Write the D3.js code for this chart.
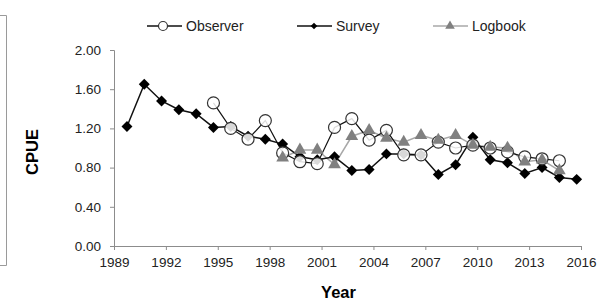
<!DOCTYPE html>
<html>
<head>
<meta charset="utf-8">
<script src="https://cdn.jsdelivr.net/npm/d3@7"></script>
<style>
  body { margin: 0; background: #fff; }
  text { font-family: "Liberation Sans", Arial, sans-serif; }
</style>
</head>
<body>
<div id="chart"></div>
<script>
var observerYears = [1995, 1996, 1997, 1998, 1999, 2000, 2001, 2002, 2003, 2004, 2005,
    2006, 2007, 2008, 2009, 2010, 2011, 2012, 2013, 2014, 2015];
var observerCpue = [1.46, 1.20, 1.09, 1.28, 0.95, 0.86, 0.84, 1.21, 1.30, 1.08, 1.18,
    0.93, 0.93, 1.06, 1.00, 1.03, 1.00, 0.96, 0.91, 0.89, 0.87];

var surveyYears = [1990, 1991, 1992, 1993, 1994, 1995, 1996, 1997, 1998, 1999, 2000,
    2001, 2002, 2003, 2004, 2005, 2006, 2007, 2008, 2009, 2010, 2011, 2012, 2013,
    2014, 2015, 2016];
var surveyCpue = [1.22, 1.65, 1.48, 1.39, 1.35, 1.21, 1.22, 1.12, 1.09, 1.04, 0.91,
    0.88, 0.91, 0.77, 0.78, 0.94, 0.94, 0.93, 0.73, 0.83, 1.11, 0.88, 0.85, 0.74,
    0.80, 0.70, 0.68];

var logbookYears = [1999, 2000, 2001, 2002, 2003, 2004, 2005, 2006, 2007, 2008, 2009,
    2010, 2011, 2012, 2013, 2014, 2015];
var logbookCpue = [0.90, 0.98, 0.98, 0.83, 1.12, 1.18, 1.10, 1.06, 1.13, 1.08, 1.13,
    1.03, 1.01, 1.00, 0.86, 0.88, 0.77];

var xTicks = [1989, 1992, 1995, 1998, 2001, 2004, 2007, 2010, 2013, 2016];
var yTicks = [0, 0.4, 0.8, 1.2, 1.6, 2.0];

var W = 599, H = 301;
var margin = { top: 50, right: 18, bottom: 55, left: 114 },
    width = W - margin.left - margin.right,
    height = H - margin.top - margin.bottom;

// markers sit a little left of the year tick in the original
var ptShift = -0.25;

var svg = d3.select("#chart")
    .append("svg")
    .attr("width", W)
    .attr("height", H);

// cropped frame on the left edge
svg.append("path")
    .attr("d", "M0,15.5H6.5V265.5H0")
    .attr("fill", "none")
    .attr("stroke", "#9a9a9a")
    .attr("stroke-width", 1);

var g = svg.append("g")
    .attr("transform", "translate(" + margin.left + "," + margin.top + ")");

var x = d3.scaleLinear()
    .domain([1989, 2016])
    .range([0, width]);

var y = d3.scaleLinear()
    .domain([0, 2])
    .range([height, 0]);

var xAxis = g.append("g")
    .attr("transform", "translate(0," + height + ")")
    .call(d3.axisBottom(x).tickValues(xTicks).tickFormat(d3.format("d")).tickSize(4).tickPadding(7));

var yAxis = g.append("g")
    .call(d3.axisLeft(y).tickValues(yTicks).tickFormat(d3.format(".2f")).tickSize(4).tickPadding(9));

[xAxis, yAxis].forEach(function (a) {
    a.select(".domain").attr("stroke", "#8c8c8c");
    a.selectAll(".tick line").attr("stroke", "#8c8c8c");
    a.selectAll(".tick text")
        .attr("fill", "#222")
        .style("font-size", "13.5px")
        .style("font-family", "'Liberation Sans', Arial, sans-serif");
});

g.append("text")
    .attr("x", width / 2 - 9)
    .attr("y", height + 52)
    .attr("text-anchor", "middle")
    .attr("font-weight", "bold")
    .style("font-size", "16.5px")
    .text("Year");

g.append("text")
    .attr("transform", "translate(" + (-76.5) + "," + (height / 2 + 4) + ") rotate(-90)")
    .attr("text-anchor", "middle")
    .attr("font-weight", "bold")
    .style("font-size", "16.5px")
    .text("CPUE");

function pairs(years, vals) {
    return years.map(function (yr, i) { return { year: yr, v: vals[i] }; });
}

var line = d3.line()
    .x(function (d) { return x(d.year + ptShift); })
    .y(function (d) { return y(d.v); });

var logbook = pairs(logbookYears, logbookCpue);
var observer = pairs(observerYears, observerCpue);
var survey = pairs(surveyYears, surveyCpue);

var triSym = d3.symbol().type(d3.symbolTriangle).size(70);
var diaSym = d3.symbol().type(d3.symbolSquare).size(60);

// logbook
g.append("path")
    .attr("fill", "none")
    .attr("stroke", "#a8a8a8")
    .attr("stroke-width", 1.5)
    .attr("d", line(logbook));

// survey
g.append("path")
    .attr("fill", "none")
    .attr("stroke", "#111")
    .attr("stroke-width", 1.5)
    .attr("d", line(survey));

// observer
g.append("path")
    .attr("fill", "none")
    .attr("stroke", "#111")
    .attr("stroke-width", 1.2)
    .attr("d", line(observer));

g.selectAll(".dia")
    .data(survey)
    .enter().append("path")
    .attr("d", diaSym)
    .attr("transform", function (d) { return "translate(" + x(d.year + ptShift) + "," + y(d.v) + ") rotate(45)"; })
    .attr("fill", "#000");

g.selectAll(".circ")
    .data(observer)
    .enter().append("circle")
    .attr("cx", function (d) { return x(d.year + ptShift); })
    .attr("cy", function (d) { return y(d.v); })
    .attr("r", 6)
    .attr("fill", "#fff")
    .attr("fill-opacity", 0.85)
    .attr("stroke", "#333")
    .attr("stroke-width", 1.2);

g.selectAll(".tri")
    .data(logbook)
    .enter().append("path")
    .attr("d", triSym)
    .attr("transform", function (d) { return "translate(" + x(d.year + ptShift) + "," + y(d.v) + ")"; })
    .attr("fill", "#808080");

// legend
var legend = svg.append("g").attr("transform", "translate(0,26)");
var legendItems = [
    { name: "Observer", x0: 147 },
    { name: "Survey", x0: 297 },
    { name: "Logbook", x0: 433 }
];
legendItems.forEach(function (it, i) {
    var lg = legend.append("g").attr("transform", "translate(" + it.x0 + ",0)");
    lg.append("line")
        .attr("x1", 0).attr("x2", 35)
        .attr("stroke", i === 2 ? "#a8a8a8" : "#111")
        .attr("stroke-width", 1.5);
    if (i === 0) {
        lg.append("circle").attr("cx", 16).attr("r", 4.5)
            .attr("fill", "#fff").attr("stroke", "#333").attr("stroke-width", 1.2);
    } else if (i === 1) {
        lg.append("path").attr("d", d3.symbol().type(d3.symbolSquare).size(22))
            .attr("transform", "translate(17,0) rotate(45)").attr("fill", "#000");
    } else {
        lg.append("path").attr("d", d3.symbol().type(d3.symbolTriangle).size(40))
            .attr("transform", "translate(17,0)").attr("fill", "#808080");
    }
    lg.append("text")
        .attr("x", 39)
        .attr("y", 0)
        .attr("dy", "0.35em")
        .attr("fill", "#222")
        .style("font-size", "14px")
        .text(it.name);
});
</script>
</body>
</html>
